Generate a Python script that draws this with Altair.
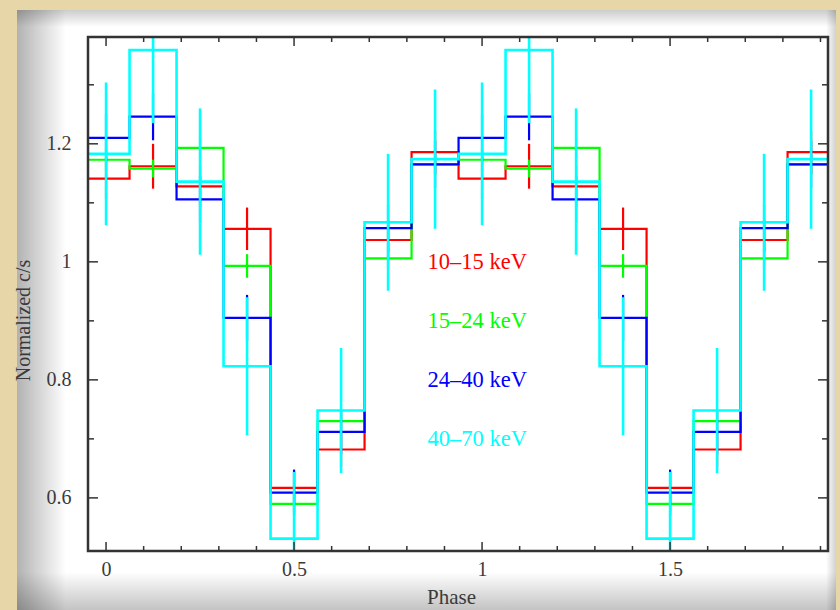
import altair as alt
import pandas as pd

# Folded pulse profile: eight phase bins per cycle, plotted over two cycles
bin_centers = [0.0, 0.125, 0.25, 0.375, 0.5, 0.625, 0.75, 0.875]
bin_width = 0.125
cycles = [0, 1]

bands = ["10–15 keV", "15–24 keV", "24–40 keV", "40–70 keV"]
band_colors = ["#ff0000", "#00ff00", "#0000ff", "#00ffff"]
band_widths = [2.2, 2.2, 2.2, 2.6]

# normalized count rate and 1-sigma error per bin
rate_10_15 = [1.141, 1.162, 1.128, 1.056, 0.617, 0.682, 1.037, 1.186]
err_10_15 = [0.035, 0.038, 0.035, 0.036, 0.028, 0.030, 0.035, 0.037]
rate_15_24 = [1.173, 1.158, 1.193, 0.993, 0.590, 0.730, 1.006, 1.165]
err_15_24 = [0.018, 0.015, 0.018, 0.020, 0.015, 0.016, 0.018, 0.018]
rate_24_40 = [1.210, 1.246, 1.106, 0.905, 0.609, 0.712, 1.057, 1.165]
err_24_40 = [0.040, 0.040, 0.040, 0.039, 0.039, 0.038, 0.040, 0.040]
rate_40_70 = [1.183, 1.359, 1.136, 0.823, 0.531, 0.748, 1.067, 1.174]
err_40_70 = [0.121, 0.124, 0.124, 0.117, 0.113, 0.106, 0.116, 0.118]

rates = [rate_10_15, rate_15_24, rate_24_40, rate_40_70]
errors = [err_10_15, err_15_24, err_24_40, err_40_70]

# band labels placed inside the plot
label_phase = 0.855
label_rate = [1.0, 0.9, 0.8, 0.7]

# axis ticks
x_labels = [0, 0.5, 1, 1.5]
x_minor = [0.1, 0.2, 0.3, 0.4, 0.6, 0.7, 0.8, 0.9, 1.1, 1.2, 1.3, 1.4, 1.6, 1.7, 1.8, 1.9]
y_labels = [0.6, 0.8, 1.0, 1.2]
y_minor = [0.7, 0.9, 1.1, 1.3]

X_DOMAIN = [-0.048, 1.92]
Y_DOMAIN = [0.51, 1.381]
W, H = 740, 514
SERIF = "Liberation Serif"
INK = "#3a3a3a"

xs = alt.Scale(domain=X_DOMAIN, nice=False, zero=False)
ys = alt.Scale(domain=Y_DOMAIN, nice=False, zero=False)

x_axis = alt.Axis(values=x_labels, format=".1~f", ticks=False, tickSize=0, domain=False, grid=False,
                  labelFont=SERIF, labelFontSize=20, labelColor=INK, labelPadding=8, zindex=2,
                  title="Phase", titleFont=SERIF, titleFontSize=21, titleFontWeight="normal",
                  titleColor=INK, titleX=363, titleY=46, titleBaseline="middle", titleAlign="center")
y_axis = alt.Axis(values=y_labels, format=".1~f", ticks=False, tickSize=0, domain=False, grid=False,
                  labelFont=SERIF, labelFontSize=20, labelColor=INK, labelPadding=17, zindex=2,
                  title="Normalized c/s", titleFont=SERIF, titleFontSize=20, titleFontWeight="normal",
                  titleColor=INK, titleX=-65, titleY=283, titleAngle=270,
                  titleBaseline="middle", titleAlign="center")

one = pd.DataFrame({"k": [0]})

# page-like panel with soft edge shading
panel = alt.Chart(one).mark_rect(color="white").encode(
    x=alt.value(-71), x2=alt.value(748), y=alt.value(-27), y2=alt.value(580))


def shade(x0, x1, y0, y1, a0, a1, horizontal):
    grad = alt.Gradient(gradient="linear",
                        stops=[alt.GradientStop(color=f"rgba(0,0,0,{a0})", offset=0),
                               alt.GradientStop(color=f"rgba(0,0,0,{a1})", offset=1)],
                        x1=0, y1=0, x2=1 if horizontal else 0, y2=0 if horizontal else 1)
    return alt.Chart(one).mark_rect(color=grad).encode(
        x=alt.value(x0), x2=alt.value(x1), y=alt.value(y0), y2=alt.value(y1))


shades = [
    shade(-71, -22, -27, 580, 0.30, 0.0, True),
    shade(-71, 748, -27, -10, 0.20, 0.0, False),
    shade(-71, 748, 535, 580, 0.0, 0.28, False),
    shade(738, 748, -27, 580, 0.0, 0.18, True),
]

layers = [panel] + shades

# step histograms and error bars, one band at a time (highest band on top)
for band, color, width, rate, err in zip(bands, band_colors, band_widths, rates, errors):
    steps = []
    bars = []
    i = 0
    for c in cycles:
        for center, r, e in zip(bin_centers, rate, err):
            ph = center + c
            steps.append({"phase": ph - bin_width / 2, "rate": r, "i": i})
            steps.append({"phase": ph + bin_width / 2, "rate": r, "i": i + 1})
            i += 2
            bars.append({"phase": ph, "lo": r - e, "hi": r + e})
    steps = pd.DataFrame(steps)
    bars = pd.DataFrame(bars)
    line = alt.Chart(steps).mark_line(color=color, strokeWidth=width, clip=True).encode(
        x=alt.X("phase:Q", scale=xs, axis=x_axis),
        y=alt.Y("rate:Q", scale=ys, axis=y_axis),
        order="i:Q")
    rule = alt.Chart(bars).mark_rule(color=color, strokeWidth=width, clip=True).encode(
        x=alt.X("phase:Q", scale=xs),
        y=alt.Y("lo:Q", scale=ys),
        y2="hi:Q")
    layers += [line, rule]

labels_df = pd.DataFrame({"band": bands, "phase": [label_phase] * len(bands), "rate": label_rate})
labels = alt.Chart(labels_df).mark_text(align="left", baseline="middle", font=SERIF, fontSize=22.5).encode(
    x=alt.X("phase:Q", scale=xs),
    y=alt.Y("rate:Q", scale=ys),
    text="band:N",
    color=alt.Color("band:N", scale=alt.Scale(domain=bands, range=band_colors), legend=None))
layers.append(labels)

# inward-pointing ticks on all four sides
TICK = dict(color="#333333", strokeWidth=1.5)
for vals, size in [(x_labels, 9), (x_minor, 5)]:
    d = pd.DataFrame({"phase": vals})
    layers.append(alt.Chart(d).mark_rule(**TICK).encode(
        x=alt.X("phase:Q", scale=xs), y=alt.value(H), y2=alt.value(H - size)))
    layers.append(alt.Chart(d).mark_rule(**TICK).encode(
        x=alt.X("phase:Q", scale=xs), y=alt.value(0), y2=alt.value(size)))
for vals, size in [(y_labels, 10), (y_minor, 6)]:
    d = pd.DataFrame({"rate": vals})
    layers.append(alt.Chart(d).mark_rule(**TICK).encode(
        y=alt.Y("rate:Q", scale=ys), x=alt.value(0), x2=alt.value(size)))
    layers.append(alt.Chart(d).mark_rule(**TICK).encode(
        y=alt.Y("rate:Q", scale=ys), x=alt.value(W), x2=alt.value(W - size)))

# plot frame
frame = alt.Chart(one).mark_rect(fill=None, stroke="#333333", strokeWidth=2.5).encode(
    x=alt.value(0), x2=alt.value(W), y=alt.value(0), y2=alt.value(H))
layers.append(frame)

chart = alt.layer(*layers).properties(
    width=W, height=H,
    autosize=alt.AutoSizeParams(type="none"),
    padding={"left": 88, "top": 37, "right": 12, "bottom": 59},
    background="#e6d6a8",
).configure_view(stroke=None)

chart.save("out.html", embed_options={"renderer": "svg", "actions": False})
